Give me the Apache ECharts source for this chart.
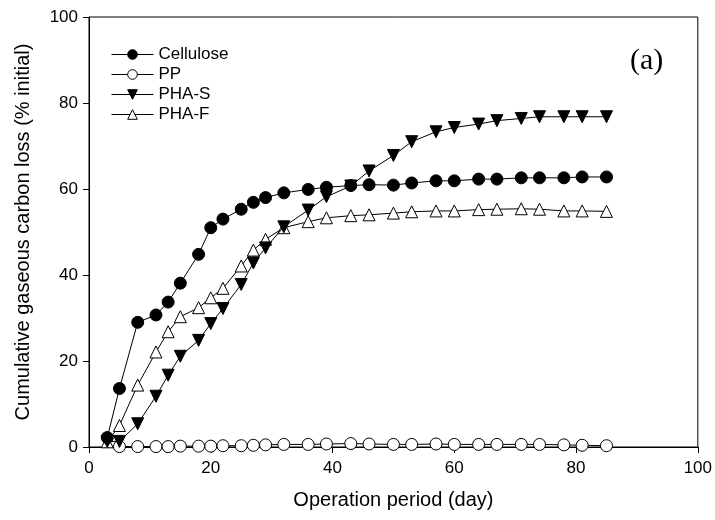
<!DOCTYPE html>
<html>
<head>
<meta charset="utf-8">
<script src="https://cdn.jsdelivr.net/npm/echarts@6/dist/echarts.min.js"></script>
<style>
  html, body { margin: 0; padding: 0; background: #fff; }
  #chart { width: 715px; height: 520px; }
</style>
</head>
<body>
<div id="chart"></div>
<script>
// 采样时间 (day)
const days = [3, 5, 8, 11, 13, 15, 18, 20, 22, 25, 27, 29, 32, 36, 39, 43, 46, 50, 53, 57, 60, 64, 67, 71, 74, 78, 81, 85];
const cellulose = [2.2, 13.6, 29, 30.7, 33.7, 38.1, 44.8, 51, 53, 55.3, 56.9, 58, 59.1, 59.9, 60.4, 60.8, 61, 60.9, 61.4, 61.9, 61.9, 62.3, 62.3, 62.6, 62.6, 62.6, 62.8, 62.8];
const pp = [null, 0.1, 0.1, 0.1, 0.1, 0.2, 0.2, 0.2, 0.3, 0.3, 0.4, 0.5, 0.6, 0.6, 0.7, 0.8, 0.7, 0.6, 0.6, 0.7, 0.6, 0.6, 0.6, 0.6, 0.6, 0.5, 0.4, 0.3];
const phaS = [1.3, 1.3, 5.4, 11.8, 16.7, 21.1, 24.8, 28.7, 32.2, 37.8, 42.8, 46.3, 51.2, 55.1, 58.2, 60.7, 64.2, 67.8, 71, 73.3, 74.3, 75.1, 75.9, 76.4, 76.8, 76.8, 76.8, 76.8];
const phaF = [1.2, 5, 14.4, 22.1, 26.8, 30.3, 32.4, 34.7, 36.9, 42.1, 45.8, 48.3, 51, 52.4, 53.3, 53.8, 54, 54.4, 54.7, 54.9, 54.9, 55.2, 55.3, 55.4, 55.3, 54.9, 54.9, 54.8];
const xTicks = [0, 20, 40, 60, 80, 100];
const yTicks = [0, 20, 40, 60, 80, 100];

const pairs = (ys) => days.map((d, i) => [d, ys[i]]).filter(p => p[1] != null);

const chart = echarts.init(document.getElementById("chart"));
const font = "Liberation Sans, Arial, sans-serif";

const base = {
  type: "line",
  symbolSize: 12,
  showAllSymbol: true,
  lineStyle: { color: "#000", width: 1 },
  emphasis: { disabled: true },
  animation: false,
};

chart.setOption({
  backgroundColor: "#fff",
  animation: false,
  grid: {
    left: 89,
    right: 13,
    top: 17,
    bottom: 73,
    show: true,
    borderColor: "#000",
    borderWidth: 1,
  },
  legend: {
    orient: "vertical",
    left: 106,
    top: 41,
    itemWidth: 42,
    itemHeight: 12,
    itemGap: 3,
    lineStyle: { width: 1 },
    itemStyle: { borderWidth: 1 },
    textStyle: { color: "#000", fontSize: 17, fontFamily: font },
    data: ["Cellulose", "PP", "PHA-S", "PHA-F"],
  },
  graphic: [
    {
      type: "text",
      left: 630,
      top: 46,
      style: { text: "(a)", fontSize: 30, fontFamily: "Liberation Serif, Times New Roman, serif", fill: "#000" },
    },
  ],
  xAxis: {
    type: "value",
    min: 0,
    max: 100,
    interval: 20,
    name: "Operation period (day)",
    nameLocation: "middle",
    nameGap: 43,
    nameTextStyle: { color: "#000", fontSize: 20, fontFamily: font },
    axisLine: { lineStyle: { color: "#000", width: 1 } },
    axisTick: { show: true, length: 6, lineStyle: { color: "#000" } },
    axisLabel: {
      color: "#000",
      fontSize: 17,
      fontFamily: font,
      margin: 13,
      customValues: xTicks,
    },
    splitLine: { show: false },
  },
  yAxis: {
    type: "value",
    min: 0,
    max: 100,
    interval: 20,
    name: "Cumulative gaseous carbon loss (% initial)",
    nameLocation: "middle",
    nameGap: 56,
    nameTextStyle: { color: "#000", fontSize: 20, fontFamily: font },
    axisLine: { show: true, lineStyle: { color: "#000", width: 1 } },
    axisTick: { show: true, length: 6, lineStyle: { color: "#000" } },
    axisLabel: {
      color: "#000",
      fontSize: 17,
      fontFamily: font,
      margin: 11,
      customValues: yTicks,
    },
    splitLine: { show: false },
  },
  series: [
    Object.assign({}, base, {
      name: "PP",
      symbol: "circle",
      itemStyle: { color: "#fff", borderColor: "#000", borderWidth: 1 },
      data: pairs(pp),
      z: 2,
    }),
    Object.assign({}, base, {
      name: "PHA-F",
      symbol: "triangle",
      itemStyle: { color: "#fff", borderColor: "#000", borderWidth: 1 },
      data: pairs(phaF),
      z: 3,
    }),
    Object.assign({}, base, {
      name: "PHA-S",
      symbol: "triangle",
      symbolRotate: 180,
      itemStyle: { color: "#000", borderColor: "#000", borderWidth: 1 },
      data: pairs(phaS),
      z: 4,
    }),
    Object.assign({}, base, {
      name: "Cellulose",
      symbol: "circle",
      itemStyle: { color: "#000", borderColor: "#000", borderWidth: 1 },
      data: pairs(cellulose),
      z: 5,
    }),
  ],
});
</script>
</body>
</html>
